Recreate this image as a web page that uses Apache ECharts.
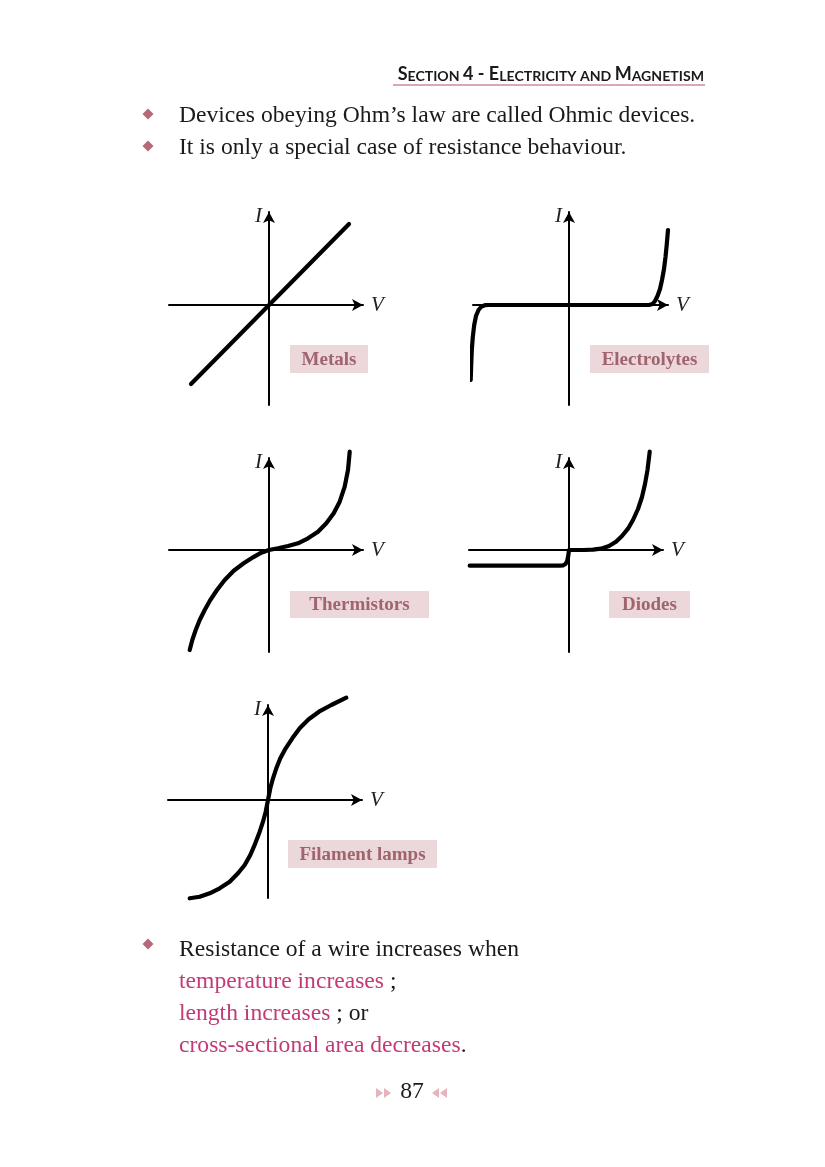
<!DOCTYPE html>
<html><head><meta charset="utf-8">
<script src="https://cdn.jsdelivr.net/npm/echarts@6/dist/echarts.min.js"></script>
<style>html,body{margin:0;padding:0;background:#fff}#c{width:825px;height:1167px}</style>
</head><body><div id="c"></div><script>
// ---- data ----
const graphNames = ['Metals', 'Electrolytes', 'Thermistors', 'Diodes', 'Filament lamps'];
const metals = [[-0.78, -0.79], [0.80, 0.81]];
const electrolytes = [[-0.983, -0.75], [-0.978, -0.6], [-0.972, -0.45], [-0.962, -0.32], [-0.948, -0.2],
  [-0.93, -0.11], [-0.905, -0.05], [-0.875, -0.015], [-0.84, -0.002], [-0.81, 0],
  [0.80, 0], [0.835, 0.01], [0.86, 0.04], [0.885, 0.09], [0.91, 0.16], [0.93, 0.25], [0.95, 0.36],
  [0.965, 0.48], [0.977, 0.6], [0.99, 0.75]];
const thermistors = [[-0.793, -1.0], [-0.767, -0.9], [-0.733, -0.8], [-0.693, -0.7], [-0.643, -0.6],
  [-0.587, -0.5], [-0.52, -0.4], [-0.443, -0.3], [-0.353, -0.207], [-0.253, -0.133], [-0.16, -0.073],
  [-0.077, -0.027], [0, 0], [0.09, 0.017], [0.19, 0.04], [0.29, 0.067], [0.39, 0.117], [0.49, 0.183],
  [0.573, 0.267], [0.647, 0.367], [0.707, 0.483], [0.757, 0.633], [0.79, 0.8], [0.807, 0.983]];
const diodes = [[-0.993, -0.157], [-0.093, -0.157], [-0.06, -0.153], [-0.035, -0.14], [-0.018, -0.11],
  [-0.008, -0.06], [0, 0], [0.15, 0], [0.24, 0.003], [0.32, 0.013], [0.40, 0.04], [0.47, 0.083],
  [0.53, 0.14], [0.59, 0.213], [0.64, 0.3], [0.69, 0.41], [0.73, 0.53], [0.76, 0.66], [0.785, 0.8], [0.807, 0.983]];
const filament = [[-0.783, -0.983], [-0.683, -0.967], [-0.583, -0.933], [-0.483, -0.883], [-0.383, -0.817],
  [-0.3, -0.733], [-0.233, -0.65], [-0.177, -0.55], [-0.127, -0.433], [-0.083, -0.317], [-0.05, -0.217],
  [-0.023, -0.117], [0, 0], [0.023, 0.117], [0.05, 0.217], [0.083, 0.317], [0.123, 0.417], [0.177, 0.517],
  [0.243, 0.617], [0.317, 0.717], [0.407, 0.807], [0.51, 0.883], [0.633, 0.95], [0.783, 1.023]];
const curves = [metals, electrolytes, thermistors, diodes, filament];
const xAxisName = 'V';
const yAxisName = 'I';
const headerText = '{b|S}{s|ECTION} {b|4 - E}{s|LECTRICITY AND} {b|M}{s|AGNETISM}';
const bulletLines = ['Devices obeying Ohm\u2019s law are called Ohmic devices.', 'It is only a special case of resistance behaviour.'];
const bottomLines = ['Resistance of a wire increases when', '{p|temperature increases} ;', '{p|length increases} ; or', '{p|cross-sectional area decreases}.'];
const pageNumber = '87';

// ---- layout (pixels) ----
// origin x, origin y, left extent, right extent, up extent, down extent
const frames = [
  [269, 305, 100, 94, 93, 100],
  [569, 305, 96, 99, 93, 100],
  [269, 550, 100, 94, 92, 102],
  [569, 550, 100, 94, 92, 102],
  [268, 800, 100, 94, 95, 98]
];
const boxes = [
  [290, 345, 78, 28],
  [590, 345, 119, 28],
  [290, 591, 139, 27],
  [609, 591, 81, 27],
  [288, 840, 149, 28]
];

const serif = 'Liberation Serif';
const bodySize = 23.6;
const grids = [], xAxes = [], yAxes = [], series = [];
frames.forEach((f, i) => {
  const [ox, oy, L, R, U, D] = f;
  grids.push({left: ox - L, top: oy - U, width: L + R, height: U + D});
  const axisLine = {onZero: true, symbol: ['none', 'arrow'], symbolSize: [9, 11],
    lineStyle: {color: '#000', width: 2}};
  xAxes.push({gridIndex: i, type: 'value', min: -L / 100, max: R / 100,
    axisLine, axisTick: {show: false}, axisLabel: {show: false}, splitLine: {show: false},
    name: xAxisName, nameLocation: 'end', nameGap: 8,
    nameTextStyle: {fontFamily: serif, fontStyle: 'italic', fontSize: 21, color: '#222',
      align: 'left', verticalAlign: 'middle', padding: [4, 0, 0, 0]}});
  yAxes.push({gridIndex: i, type: 'value', min: -D / 100, max: U / 100,
    axisLine, axisTick: {show: false}, axisLabel: {show: false}, splitLine: {show: false},
    name: yAxisName, nameLocation: 'end', nameGap: -4,
    nameTextStyle: {fontFamily: serif, fontStyle: 'italic', fontSize: 21, color: '#222',
      align: 'right', verticalAlign: 'middle', padding: [0, 7, 0, 0]}});
  series.push({type: 'line', xAxisIndex: i, yAxisIndex: i, data: curves[i],
    showSymbol: false, smooth: false, clip: false,
    lineStyle: {color: '#000', width: 4.2, cap: 'round', join: 'round'}, silent: true, z: 3});
});

const graphic = [];
// header
graphic.push({type: 'text', x: 704, y: 73, style: {text: headerText, align: 'right', verticalAlign: 'middle',
  fill: '#1a1a1a', rich: {
    b: {fontFamily: 'Lato', fontWeight: 'bold', fontSize: 18, fill: '#1a1a1a', verticalAlign: 'bottom', lineHeight: 21},
    s: {fontFamily: 'Lato', fontWeight: 'bold', fontSize: 14.1, fill: '#1a1a1a', verticalAlign: 'bottom', lineHeight: 21}}}});
graphic.push({type: 'line', shape: {x1: 393, y1: 85, x2: 705, y2: 85}, style: {stroke: '#d9a9b1', lineWidth: 2}});
function diamond(cx, cy) {
  graphic.push({type: 'polygon', shape: {points: [[cx, cy - 5.5], [cx + 5.5, cy], [cx, cy + 5.5], [cx - 5.5, cy]]},
    style: {fill: '#b46878'}});
}
const richPink = {p: {fill: '#c23a78', fontFamily: serif, fontSize: bodySize}};
bulletLines.forEach((t, k) => {
  const y = 116 + k * 32;
  diamond(148, y - 2);
  graphic.push({type: 'text', x: 179, y, style: {text: t, fontFamily: serif, fontSize: bodySize, fill: '#1a1a1a',
    verticalAlign: 'middle'}});
});
diamond(148, 944);
bottomLines.forEach((t, k) => {
  const y = 950 + k * 32;
  graphic.push({type: 'text', x: 179, y, style: {text: t, fontFamily: serif, fontSize: bodySize, fill: '#1a1a1a',
    verticalAlign: 'middle', rich: richPink}});
});
// labels
boxes.forEach((b, i) => {
  const [x, y, w, h] = b;
  graphic.push({type: 'rect', shape: {x, y, width: w, height: h}, style: {fill: '#ecd8da'}, z: 1});
  graphic.push({type: 'text', x: x + w / 2, y: y + h / 2 + 1, z: 2, style: {text: graphNames[i], fontFamily: serif,
    fontWeight: 'bold', fontSize: 19, fill: '#a0646e', align: 'center', verticalAlign: 'middle'}});
});
// page number
graphic.push({type: 'text', x: 412, y: 1092, style: {text: pageNumber, fontFamily: serif, fontSize: bodySize,
  fill: '#1a1a1a', align: 'center', verticalAlign: 'middle'}});
function tri(x, dir) {
  const y = 1093;
  const pts = dir > 0 ? [[x, y - 5], [x + 7, y], [x, y + 5]] : [[x + 7, y - 5], [x, y], [x + 7, y + 5]];
  graphic.push({type: 'polygon', shape: {points: pts}, style: {fill: '#e6b3bc'}});
}
tri(376, 1); tri(384, 1); tri(432, -1); tri(440, -1);

const chart = echarts.init(document.getElementById('c'), null, {renderer: 'canvas'});
chart.setOption({animation: false, backgroundColor: '#fff', grid: grids, xAxis: xAxes, yAxis: yAxes,
  series, graphic});
</script></body></html>
